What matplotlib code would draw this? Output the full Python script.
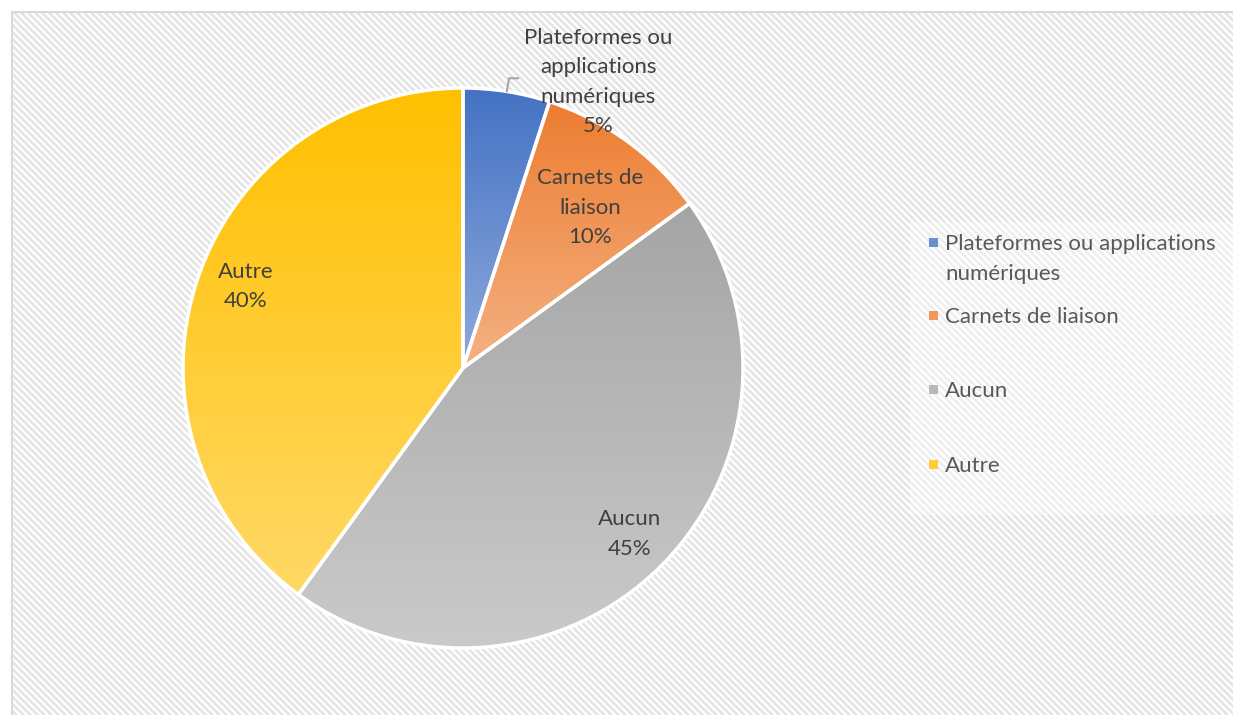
import numpy as np
import matplotlib.pyplot as plt
from matplotlib.colors import LinearSegmentedColormap
from matplotlib.patches import Rectangle

# data
categories = ["Plateformes ou applications\nnumériques", "Carnets de liaison", "Aucun", "Autre"]
slice_labels = ["Plateformes ou\napplications\nnumériques", "Carnets de\nliaison", "Aucun", "Autre"]
shares = [5, 10, 45, 40]
top_colors = ["#4472C4", "#ED7D31", "#A5A5A5", "#FFC000"]
bottom_colors = ["#8FAADC", "#F4B183", "#CACACA", "#FFD966"]

#  label placement (radius as fraction of pie radius, shift in degrees from slice middle)
label_dist = [1.13, 0.73, 0.84, 0.83]
label_shift = [-16.3, -2.4, 0.2, -2.5]

plt.rcParams["font.family"] = ["Lato", "DejaVu Sans"]

W, H = 1233, 715
fig = plt.figure(figsize=(W / 100, H / 100), dpi=100)

#  striped chart-area background (excel "wide downward diagonal")
bg = fig.add_axes([12 / W, 0, 1 - 12 / W, 1 - 12 / H])
rows, cols = np.mgrid[0:H - 12, 0:W - 12]
tex = np.where(((cols - rows) % 7) < 3.5, 0.9, 1.0)
bg.imshow(tex, cmap="gray", vmin=0, vmax=1, interpolation="nearest", aspect="auto")
bg.set_xticks([])
bg.set_yticks([])
for s in ["right", "bottom"]:
    bg.spines[s].set_visible(False)
for s in ["left", "top"]:
    bg.spines[s].set_color("#D9D9D9")
    bg.spines[s].set_linewidth(1.5)

#  pie
ax = fig.add_axes([183 / W, 67 / H, 560 / W, 560 / H])
wedges, _ = ax.pie(shares, startangle=90, counterclock=False,
                   wedgeprops=dict(edgecolor="white", linewidth=2.5))

#  vertical gradient inside each slice
grad = np.linspace(0, 1, 256).reshape(-1, 1)
for w, c0, c1 in zip(wedges, top_colors, bottom_colors):
    x0, y0, x1, y1 = w.get_path().get_extents().extents
    cmap = LinearSegmentedColormap.from_list("g", [c0, c1])
    im = ax.imshow(grad, cmap=cmap, extent=[x0, x1, y0, y1], origin="upper",
                   aspect="auto", zorder=0.5)
    im.set_clip_path(w)
    w.set_facecolor("none")
    w.set_clip_on(False)

#  data labels
for i, (w, lab, v, d, sh) in enumerate(zip(wedges, slice_labels, shares, label_dist, label_shift)):
    mid = (w.theta1 + w.theta2) / 2
    ang = np.deg2rad(mid + sh)
    if i == 0:
        # leader line
        lx, ly = np.cos(np.deg2rad(mid)), np.sin(np.deg2rad(mid))
        ax.plot([lx, lx + 0.008, lx + 0.04], [ly, ly + 0.047, ly + 0.047],
                color="#A6A6A6", lw=1.5, clip_on=False, zorder=3)
    ax.text(d * np.cos(ang), d * np.sin(ang), f"{lab}\n{v}%", ha="center", va="center",
            fontsize=16, color="#404040", linespacing=1.6, zorder=4)

ax.set_xlim(-1, 1)
ax.set_ylim(-1, 1)
ax.set_aspect("equal")
ax.axis("off")

#  legend (drawn by hand to match excel's spacing)
fig.patches.append(Rectangle((910 / W, 1 - 515 / H), (W - 910) / W, (515 - 222) / H,
                             transform=fig.transFigure, facecolor="white", alpha=0.4,
                             edgecolor="none", zorder=1))
legend_y = [242, 315, 389, 464]
for lab, c0, c1, y in zip(categories, top_colors, bottom_colors, legend_y):
    mix = LinearSegmentedColormap.from_list("m", [c0, c1])(0.5)
    fig.patches.append(Rectangle((929 / W, 1 - (y + 4.5) / H), 9 / W, 9 / H,
                                 transform=fig.transFigure, facecolor=mix,
                                 edgecolor="none", zorder=2))
    fig.text(945 / W, 1 - (y - 8) / H, lab, ha="left", va="top", fontsize=16,
             color="#595959", linespacing=1.6, zorder=3)

plt.savefig("out.png", dpi=100)
plt.close()
